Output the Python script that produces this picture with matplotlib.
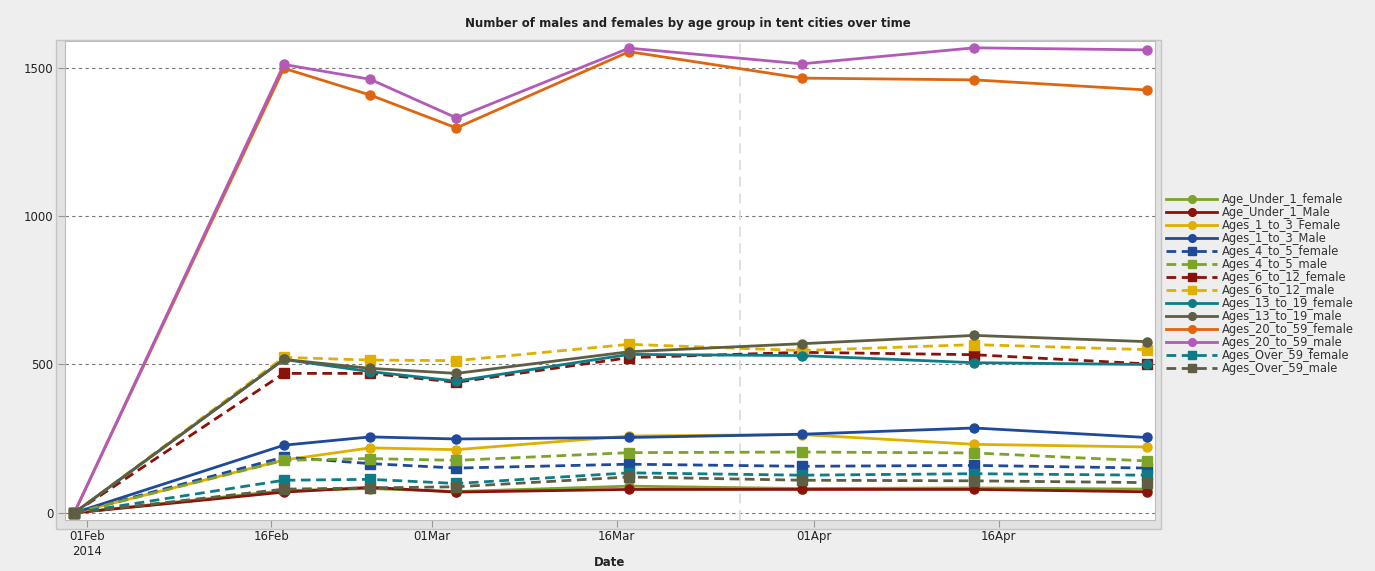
import pandas as pd
import matplotlib
matplotlib.use("Agg")
import matplotlib.pyplot as plt
from matplotlib.patches import Rectangle

# Data (survey dates and head counts)
dates = pd.to_datetime(['2014-01-31', '2014-02-17', '2014-02-24', '2014-03-03',
                        '2014-03-17', '2014-03-31', '2014-04-14', '2014-04-28'])

under1_female = [0, 75, 82, 72, 90, 82, 84, 80]
under1_male = [0, 70, 86, 70, 79, 79, 79, 71]
ages1_3_female = [0, 178, 219, 213, 259, 264, 231, 222]
ages1_3_male = [0, 228, 256, 249, 254, 265, 286, 254]
ages4_5_female = [0, 188, 166, 151, 164, 157, 160, 151]
ages4_5_male = [0, 177, 183, 177, 203, 205, 202, 175]
ages6_12_female = [0, 470, 470, 440, 523, 541, 533, 502]
ages6_12_male = [0, 524, 515, 513, 568, 547, 567, 550]
ages13_19_female = [0, 517, 476, 444, 534, 530, 506, 500]
ages13_19_male = [0, 517, 487, 470, 543, 570, 598, 577]
ages20_59_female = [0, 1498, 1408, 1297, 1554, 1465, 1459, 1425]
ages20_59_male = [0, 1511, 1461, 1331, 1566, 1513, 1567, 1560]
over59_female = [0, 110, 113, 99, 135, 127, 132, 127]
over59_male = [0, 80, 84, 88, 121, 110, 108, 102]

series = [
    ('Age_Under_1_female', under1_female, '#7ba428', 'solid'),
    ('Age_Under_1_Male', under1_male, '#8b1208', 'solid'),
    ('Ages_1_to_3_Female', ages1_3_female, '#e0b000', 'solid'),
    ('Ages_1_to_3_Male', ages1_3_male, '#1f4a9c', 'solid'),
    ('Ages_4_to_5_female', ages4_5_female, '#1f4a9c', 'dash'),
    ('Ages_4_to_5_male', ages4_5_male, '#7ba428', 'dash'),
    ('Ages_6_to_12_female', ages6_12_female, '#8b1208', 'dash'),
    ('Ages_6_to_12_male', ages6_12_male, '#e0b000', 'dash'),
    ('Ages_13_to_19_female', ages13_19_female, '#0e7c86', 'solid'),
    ('Ages_13_to_19_male', ages13_19_male, '#5e5e44', 'solid'),
    ('Ages_20_to_59_female', ages20_59_female, '#e0650f', 'solid'),
    ('Ages_20_to_59_male', ages20_59_male, '#b35ab8', 'solid'),
    ('Ages_Over_59_female', over59_female, '#0e7c86', 'dash'),
    ('Ages_Over_59_male', over59_male, '#5e5e44', 'dash'),
]

W, H = 1375, 571
fig = plt.figure(figsize=(W / 100, H / 100), dpi=100, facecolor='#eeeeee')
plt.rcParams['font.family'] = 'DejaVu Sans'

# grey frame band round the plot area
fig.patches.append(Rectangle((56 / W, 1 - 529 / H), (1161 - 56) / W, (529 - 40) / H,
                             transform=fig.transFigure, facecolor='#e2e2e2',
                             edgecolor='#c4c4c4', lw=1, zorder=0))

ax = fig.add_axes([65 / W, 1 - 520 / H, (1155 - 65) / W, (520 - 41) / H])
ax.set_zorder(2)
ax.set_facecolor('white')

for label, values, color, style in series:
    if style == 'solid':
        ax.plot(dates, values, color=color, lw=2, marker='o', markersize=6.5,
                label=label, zorder=3)
    else:
        ax.plot(dates, values, color=color, lw=2, linestyle=(0, (3.5, 2)),
                marker='s', markersize=6.5, label=label, zorder=3)

# reference line
ax.axvline(pd.Timestamp('2014-03-26'), color='#dadada', lw=1.2, linestyle=(0, (6, 4)), zorder=1)

ax.set_xlim(pd.Timestamp('2014-01-30 06:00'), pd.Timestamp('2014-04-28 16:00'))
ax.set_ylim(-24, 1590)

ax.set_yticks([0, 500, 1000, 1500])
ax.yaxis.grid(True, color='#777777', linestyle=(0, (3, 3)), lw=0.8, zorder=1)
ax.set_axisbelow(True)

xticks = pd.to_datetime(['2014-02-01', '2014-02-16', '2014-03-01', '2014-03-16',
                         '2014-04-01', '2014-04-16'])
xlabels = ['01Feb\n2014', '16Feb', '01Mar', '16Mar', '01Apr', '16Apr']
ax.set_xticks(xticks)
ax.set_xticklabels(xlabels)

ax.tick_params(axis='both', colors='#999999', labelcolor='#222222', labelsize=8.5, length=5)
ax.tick_params(axis='x', pad=2)
for s in ax.spines.values():
    s.set_color('#bdbdbd')

fig.text(688 / W, 1 - 24 / H, 'Number of males and females by age group in tent cities over time',
         ha='center', va='center', fontsize=8.5, fontweight='bold', color='#222222')
fig.text(610 / W, 1 - 563 / H, 'Date', ha='center', va='center', fontsize=8.5,
         fontweight='bold', color='#222222')

ax.legend(loc='upper left', bbox_to_anchor=(1161 / W, 1 - 188 / H),
          bbox_transform=fig.transFigure, frameon=False, fontsize=8.3,
          handlelength=4.5, handletextpad=0.4, labelspacing=0.0, numpoints=1,
          labelcolor='#333333', borderaxespad=0, markerscale=0.85)

fig.savefig('out.png', dpi=100, facecolor=fig.get_facecolor())
